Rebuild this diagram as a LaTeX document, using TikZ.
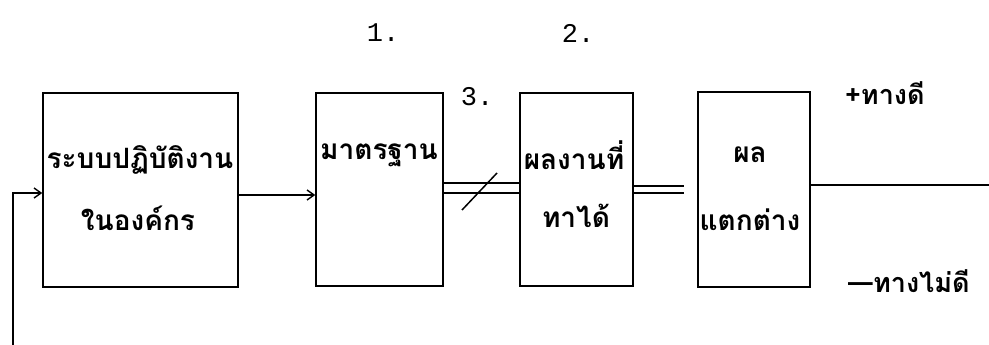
\documentclass[tikz,border=0pt]{standalone}
\usepackage{fontspec}
\newfontfamily\thaifont[Script=Thai]{Loma}
\setmonofont{Liberation Mono}
\usetikzlibrary{arrows.meta}
\begin{document}
\begin{tikzpicture}[x=1pt,y=-1pt,
  blk/.style={draw,line width=1.5pt,inner sep=0pt},
  lbl/.style={font=\thaifont\bfseries\fontsize{28}{30}\selectfont,inner sep=0pt,anchor=center},
  side/.style={font=\thaifont\bfseries\fontsize{27}{30}\selectfont,inner sep=0pt,anchor=west},
  num/.style={font=\ttfamily\fontsize{27}{28}\selectfont,inner sep=0pt},
  wire/.style={line width=1.5pt},
  arr/.style={wire,-{Straight Barb[length=7pt,width=10pt,line width=1.4pt]}}]
\useasboundingbox (0,0) rectangle (989,345);
% blocks
\node[blk,minimum width=195pt,minimum height=194pt] (sys) at (140.5,190) {};
\node[blk,minimum width=127pt,minimum height=193pt] (std) at (379.5,189.5) {};
\node[blk,minimum width=113pt,minimum height=193pt] (res) at (576.5,189.5) {};
\node[blk,minimum width=112pt,minimum height=195pt] (dif) at (754,189.5) {};
% block texts
\node[lbl] (t1a) at (140,160) {ระบบปฏิบัติงาน};
\node[lbl] (t1b) at (138,218) {ในองค์กร};
\node[lbl] (t2a) at (379,155) {มาตรฐาน};
\node[lbl] (t3a) at (574,155) {ผลงานที่};
\node[lbl] (t3b) at (576,216) {ทาได้};
\node[lbl] (t4a) at (750,155) {ผล};
\node[lbl] (t4b) at (750,220) {แตกต่าง};
% numbers
\node[num] (n1) at (383,33) {1.};
\node[num] (n2) at (578,33) {2.};
\node[num] (n3) at (477,97) {3.};
% outcome labels
\node[side] (good) at (845,93) {+ทางดี};
\node[side] (bad) at (848,281) {—ทางไม่ดี};
% connectors
\coordinate (fb) at (13,345);
\coordinate (out) at (989,185);
\draw[arr] (fb) |- (sys.west |- 0,193);
\draw[arr] (sys.east |- 0,195) -- (std.west |- 0,195);
\draw[wire] (dif.east |- out) -- (out);
% not-equal sign between standard and result
\draw[wire] (std.east |- 0,183) -- (res.west |- 0,183);
\draw[wire] (std.east |- 0,193) -- (res.west |- 0,193);
\coordinate (sl1) at (462,210);
\coordinate (sl2) at (497,173);
\draw[wire] (sl1) -- (sl2);
% equal sign between result and difference
\draw[wire] (res.east |- 0,186) -- ++(50,0) coordinate (e1);
\draw[wire] (res.east |- 0,193) -- ++(50,0) coordinate (e2);
\end{tikzpicture}
\end{document}
